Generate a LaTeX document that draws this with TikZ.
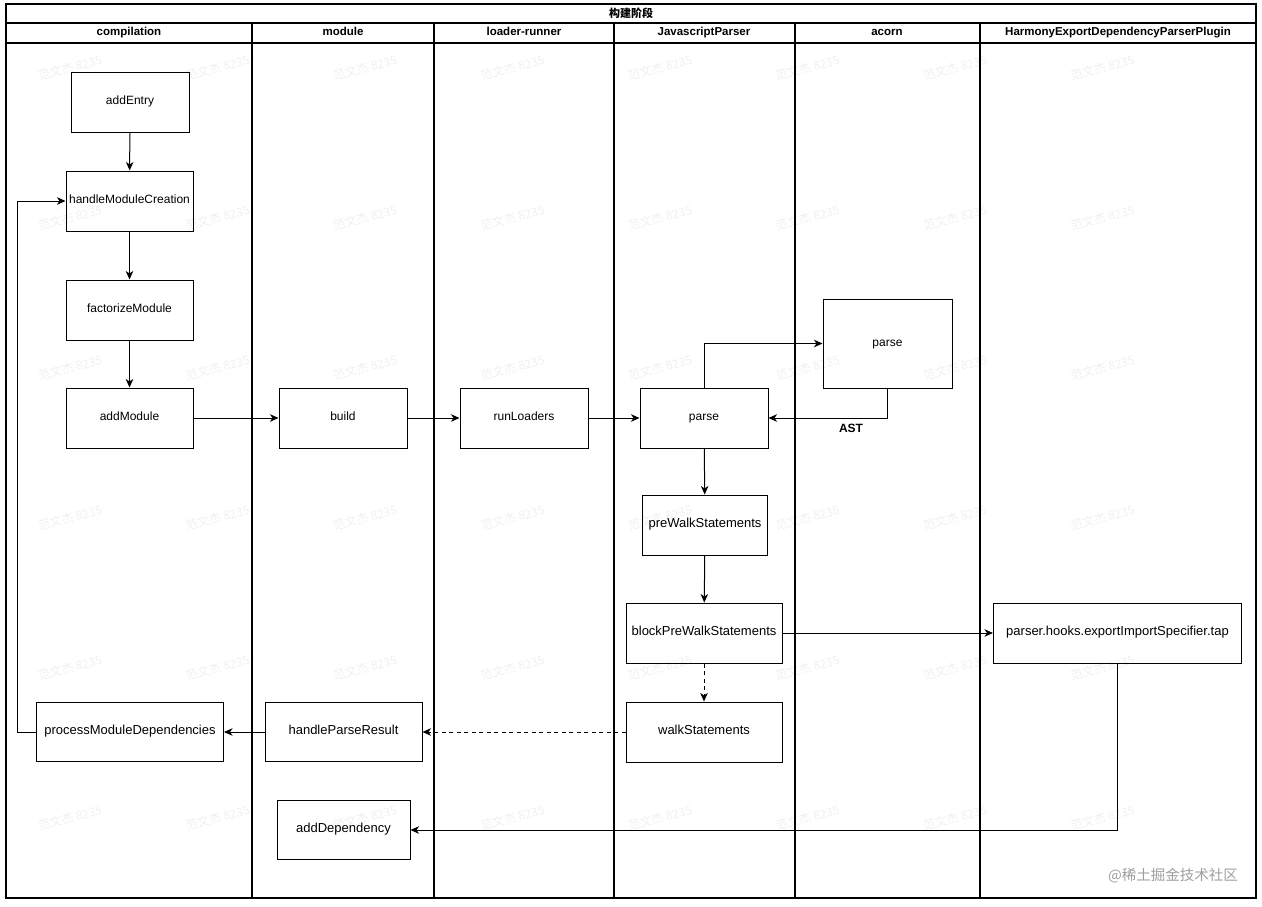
\documentclass[tikz,border=0pt]{standalone}
\usepackage{fontspec}
\setmainfont{Liberation Sans}
\newfontfamily\cjk{Noto Sans CJK SC}
\usetikzlibrary{arrows.meta}
\begin{document}
\begin{tikzpicture}[x=1pt,y=-1pt,
  box/.style={draw,line width=1pt,inner sep=2pt,text height=0.72em,text depth=0.22em,font=\fontsize{12}{14}\selectfont},
  bigtxt/.style={font=\fontsize{13}{15}\selectfont},
  lane/.style={line width=1.1pt},
  hdr/.style={text height=0.72em,text depth=0.22em,font=\fontsize{11.5}{13}\selectfont\bfseries},
  arr/.style={line width=1pt,-{Stealth[length=8.5pt,width=7.5pt,inset=2.5pt]}},
  dsh/.style={dash pattern=on 4pt off 3.5pt},
  wm/.style={text=black!6,rotate=15,font=\cjk\fontsize{12}{14}\selectfont}]
\useasboundingbox (0,0) rectangle (1262,906);
% watermarks
\foreach \i in {0,...,7}{
  \foreach \j in {0,...,5}{
    \node[wm] at ({70+147.5*\i},{68+150*\j}) {范文杰 8235};
  }
}
% frame and lanes
\draw[lane] (6,4) rectangle (1256,898);
\draw[lane] (6,23) -- (1256,23);
\draw[lane] (6,43) -- (1256,43);
\foreach \x in {252,434,614,795,980}{\draw[lane] (\x,23) -- (\x,898);}
\node[font=\cjk\fontsize{11}{13}\selectfont\bfseries] (title) at (631,13.5) {构建阶段};
\node[hdr] (h1) at (129,33) {compilation};
\node[hdr] (h2) at (343,33) {module};
\node[hdr] (h3) at (524,33) {loader-runner};
\node[hdr] (h4) at (704,33) {JavascriptParser};
\node[hdr] (h5) at (887,33) {acorn};
\node[hdr] (h6) at (1118,33) {HarmonyExportDependencyParserPlugin};
% nodes
\node[box,minimum width=118pt,minimum height=60pt] (addEntry) at (130,102) {addEntry};
\node[box,minimum width=127pt,minimum height=60pt] (hmc) at (129.5,201) {handleModuleCreation};
\node[box,minimum width=127pt,minimum height=60pt] (fac) at (129.5,310) {factorizeModule};
\node[box,minimum width=127pt,minimum height=60pt] (addModule) at (129.5,418) {addModule};
\node[box,minimum width=128pt,minimum height=60pt] (build) at (343,418) {build};
\node[box,minimum width=128pt,minimum height=60pt] (runLoaders) at (524,418) {runLoaders};
\node[box,minimum width=128pt,minimum height=60pt] (jsparse) at (704,418) {parse};
\node[box,minimum width=129pt,minimum height=89pt] (acparse) at (887.5,343.5) {parse};
\node[font=\fontsize{12}{14}\selectfont\bfseries] (ast) at (851,428) {AST};
\node[box,bigtxt,minimum width=125pt,minimum height=60pt] (prewalk) at (705,525) {preWalkStatements};
\node[box,bigtxt,minimum width=156pt,minimum height=60pt] (blockpre) at (704,633) {blockPreWalkStatements};
\node[box,bigtxt,minimum width=156pt,minimum height=60pt] (walk) at (704,732) {walkStatements};
\node[box,bigtxt,minimum width=248pt,minimum height=60pt] (tap) at (1117.5,633) {parser.hooks.exportImportSpecifier.tap};
\node[box,bigtxt,minimum width=187pt,minimum height=59pt] (pmd) at (130,732) {processModuleDependencies};
\node[box,bigtxt,minimum width=157pt,minimum height=59pt] (hpr) at (343.5,732) {handleParseResult};
\node[box,bigtxt,minimum width=133pt,minimum height=59pt] (adddep) at (343.5,830) {addDependency};
% connectors
\draw[arr] (addEntry) -- (hmc);
\draw[arr] (hmc) -- (fac);
\draw[arr] (fac) -- (addModule);
\draw[arr] (addModule) -- (build);
\draw[arr] (build) -- (runLoaders);
\draw[arr] (runLoaders) -- (jsparse);
\draw[arr] (jsparse.north) |- (acparse.west);
\draw[arr] (acparse.south) |- (jsparse.east);
\draw[arr] (jsparse) -- (prewalk);
\draw[arr] (prewalk) -- (blockpre);
\draw[arr] (blockpre) -- (tap);
\draw[arr,dsh] (blockpre) -- (walk);
\draw[arr,dsh] (walk) -- (hpr);
\draw[arr] (hpr) -- (pmd);
\coordinate (loop) at (17,732);
\draw[arr] (pmd.west) -- (loop) |- (hmc.west);
\draw[arr] (tap.south) |- (adddep.east);
% site mark
\node[text=black!38,font=\cjk\fontsize{14.5}{16}\selectfont] (site) at (1173,876) {@稀土掘金技术社区};
\end{tikzpicture}
\end{document}
